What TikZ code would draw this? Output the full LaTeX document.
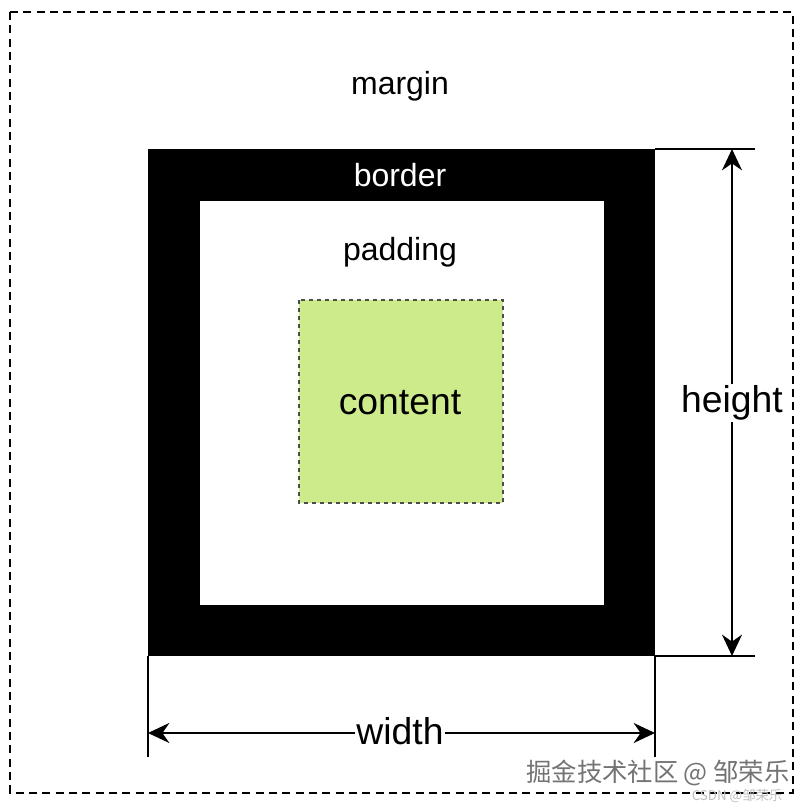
\documentclass[tikz,border=0pt]{standalone}
\usepackage{fontspec}
\setmainfont{Liberation Sans}
\newfontfamily\cjk{Noto Sans CJK SC}
\usetikzlibrary{arrows.meta}
\definecolor{contentgreen}{HTML}{CDEB8B}
\tikzset{
  lbl/.style={font=\fontsize{24}{28}\selectfont, inner sep=1pt},
  big/.style={font=\fontsize{28}{32}\selectfont, inner sep=1pt, fill=white},
  dim/.style={line width=1.5pt, {Stealth[length=16pt,width=15pt]}-{Stealth[length=16pt,width=15pt]}},
  ext/.style={line width=1.2pt}
}
\begin{document}
\begin{tikzpicture}[x=0.75pt,y=-0.75pt]
\useasboundingbox (0,0) rectangle (807,810);
\fill[white] (0,0) rectangle (807,810);
\draw[dashed, line width=1.2pt, dash pattern=on 6pt off 4pt] (10,12) rectangle (793,793);
\fill[black] (148,149) rectangle (655,656);
\fill[white] (200,201) rectangle (604,605);
\draw[dashed, fill=contentgreen, draw=black!70, line width=1pt] (299,300) rectangle (503,503);
\node[lbl] (margin) at (400,86) {margin};
\node[lbl, text=white] (border) at (400,175) {border};
\node[lbl] (padding) at (400,252) {padding};
\node[big, fill=none] (content) at (400,403) {content};
% height
\coordinate (ht1) at (655,149); \coordinate (ht2) at (755,149);
\coordinate (hb1) at (655,656); \coordinate (hb2) at (755,656);
\draw[ext] (ht1) -- (ht2);
\draw[ext] (hb1) -- (hb2);
\coordinate (ha) at (732,149); \coordinate (hb) at (732,656);
\draw[dim] (ha) -- (hb);
\node[big] (height) at (732,403) {height};
% width
\coordinate (wl1) at (148,656); \coordinate (wl2) at (148,757);
\coordinate (wr1) at (655,656); \coordinate (wr2) at (655,757);
\draw[ext] (wl1) -- (wl2);
\draw[ext] (wr1) -- (wr2);
\coordinate (wa) at (148,733); \coordinate (wb) at (655,733);
\draw[dim] (wa) -- (wb);
\node[big] (width) at (400,731) {width};
% watermarks
\node[text=black!55, font=\cjk\fontsize{19}{22}\selectfont, inner sep=0pt] (wm1) at (658,773) {掘金技术社区 @ 邹荣乐};
\node[text=black!25, font=\cjk\fontsize{10}{12}\selectfont, inner sep=0pt] (wm2) at (737,796) {CSDN @邹荣乐};
\end{tikzpicture}
\end{document}
